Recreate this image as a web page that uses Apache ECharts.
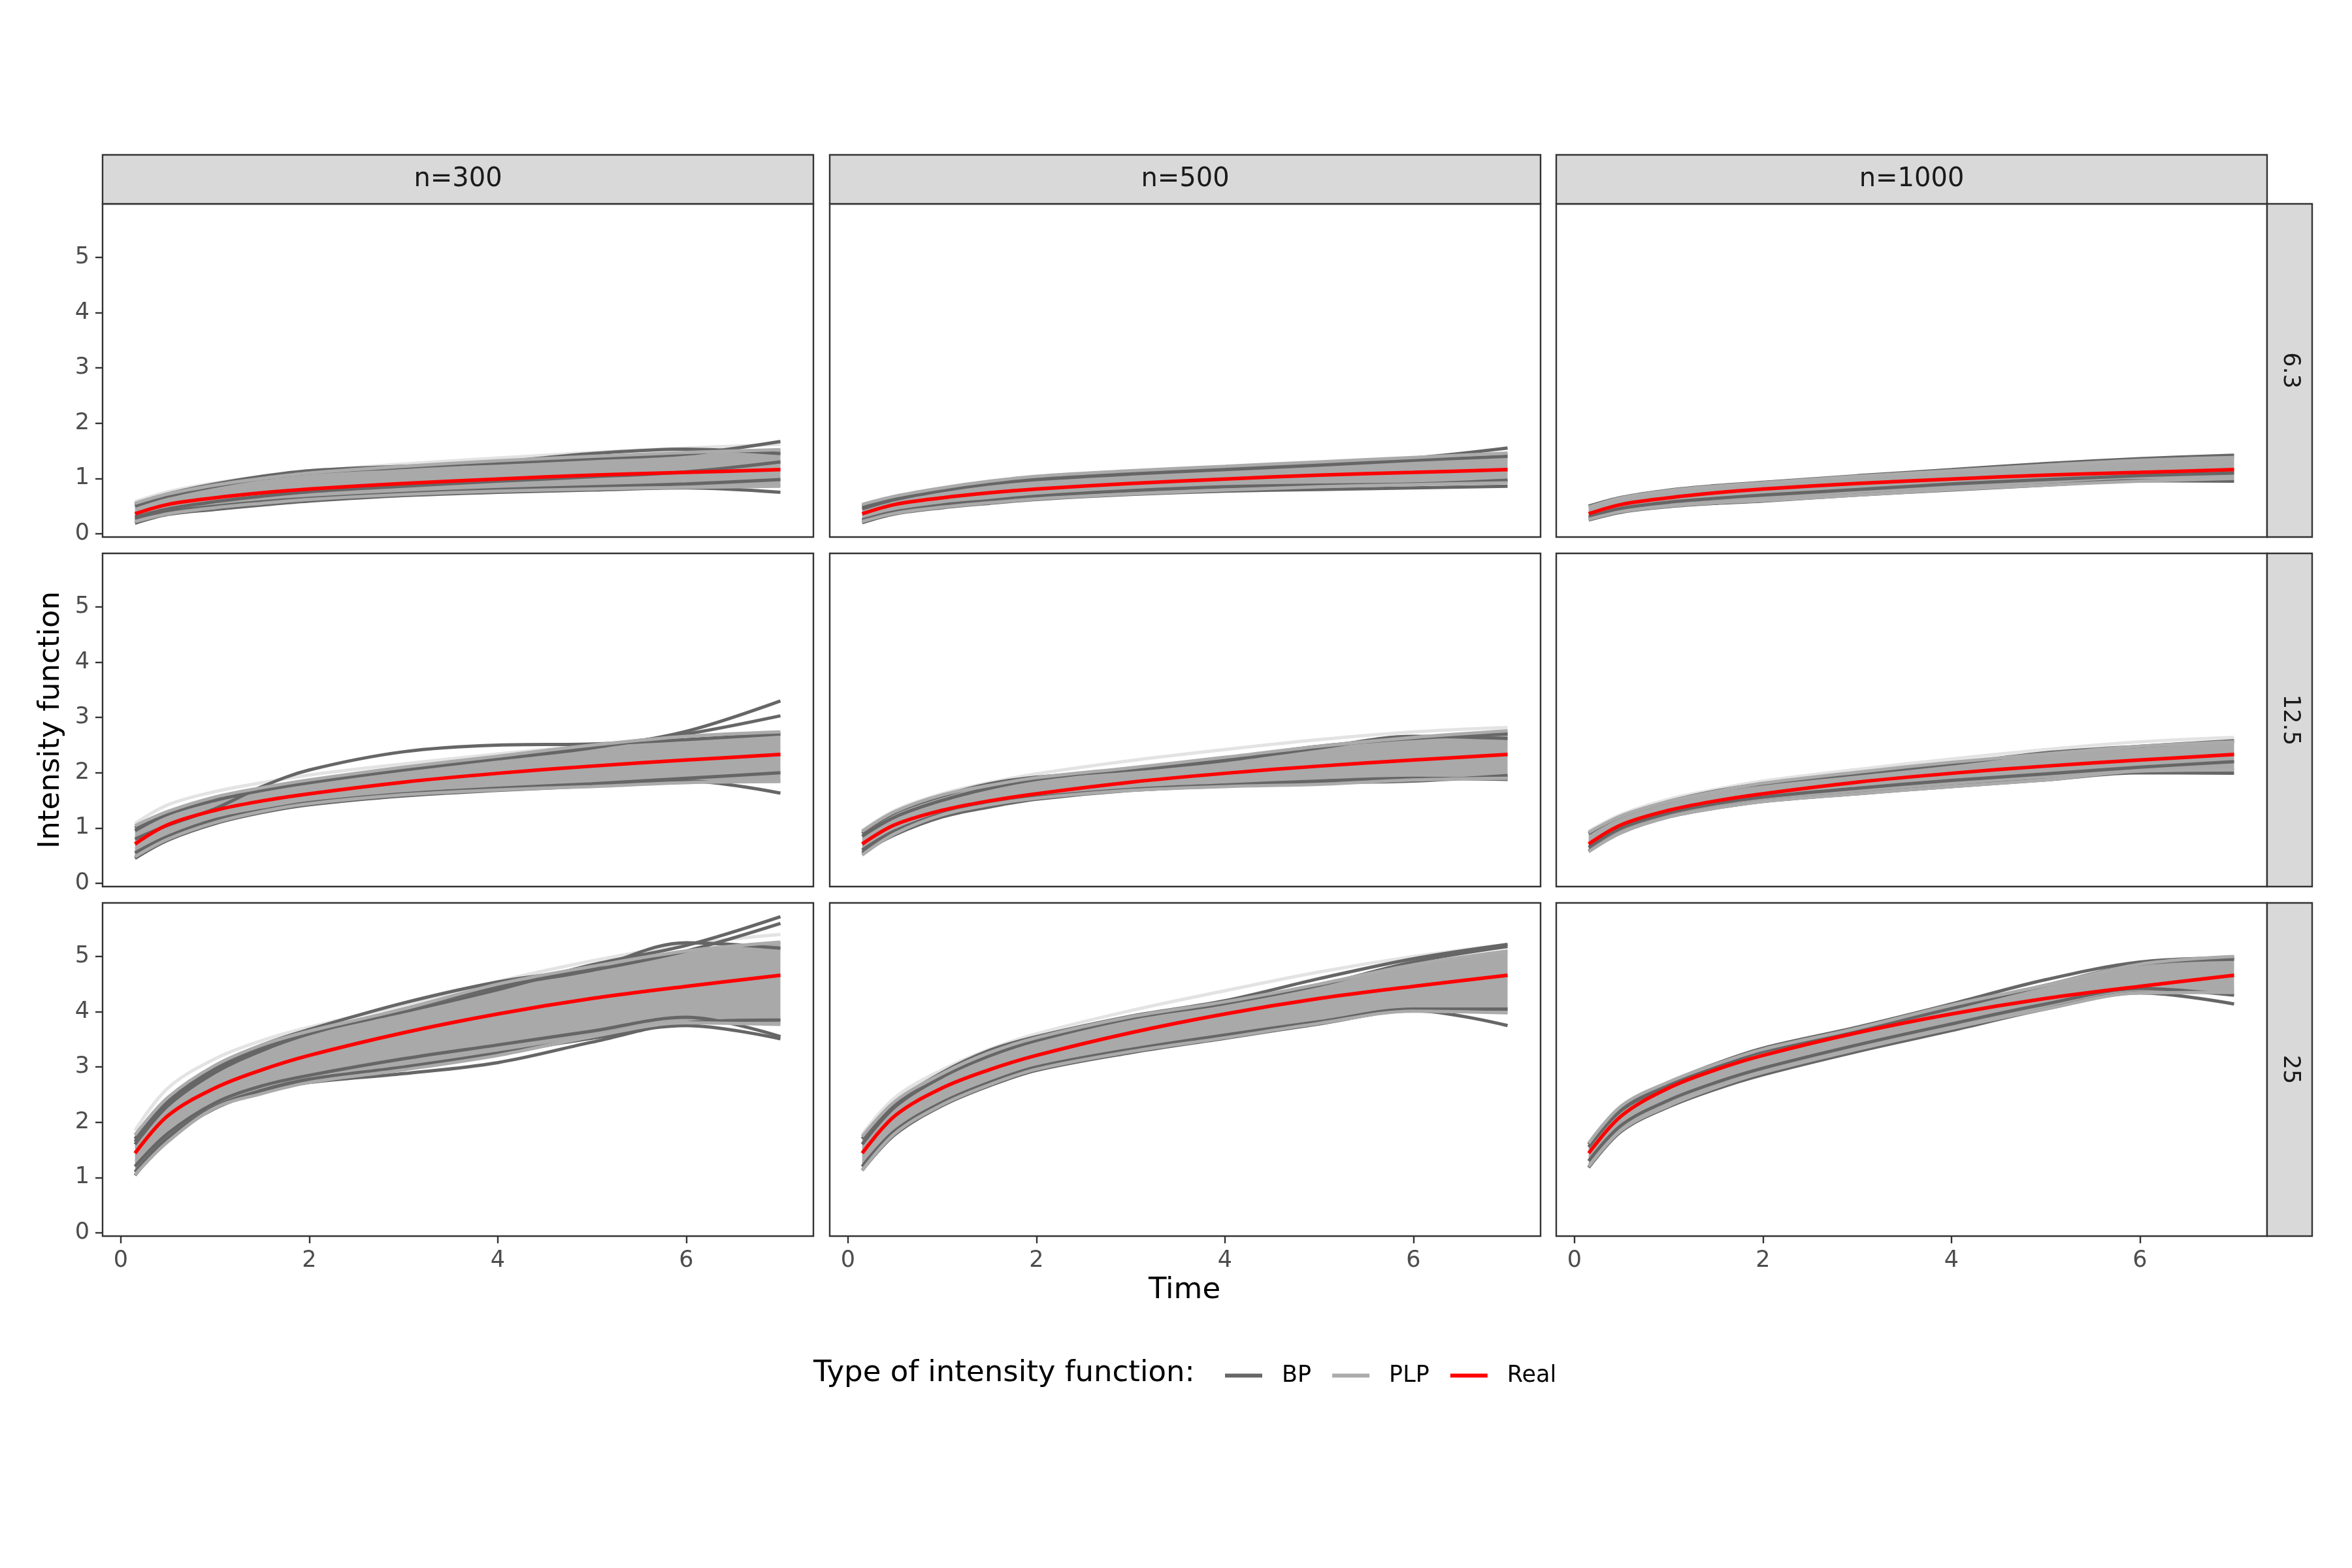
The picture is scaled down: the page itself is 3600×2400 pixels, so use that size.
<!DOCTYPE html>
<html>
<head>
<meta charset="utf-8">
<title>Intensity function</title>
<script src="https://cdn.jsdelivr.net/npm/echarts@6.0.0/dist/echarts.min.js"></script>
<style>
  html, body { margin: 0; padding: 0; background: #ffffff; }
  #chart { width: 3600px; height: 2400px; }
</style>
</head>
<body>
<div id="chart"></div>
<script>
// facets: columns = sample size, rows = value of the rate
var sampleSizes = ['300', '500', '1000'];
var rates = ['6.3', '12.5', '25'];
var times = [0.15, 0.5, 1, 1.5, 2, 3, 4, 5, 6, 7];
var xTicks = [0, 2, 4, 6];
var yTicks = [0, 1, 2, 3, 4, 5];

// real intensity, one curve per row
var realIntensity = {
    '6.3':  [0.36, 0.53, 0.65, 0.74, 0.81, 0.91, 0.99, 1.06, 1.11, 1.16],
    '12.5': [0.71, 1.06, 1.32, 1.49, 1.62, 1.83, 1.99, 2.12, 2.23, 2.33],
    '25':   [1.44, 2.12, 2.62, 2.95, 3.21, 3.62, 3.96, 4.24, 4.46, 4.66]
};

// upper / lower edge of the bundle of PLP estimates
var plpHigh = {
    '300|6.3':   [0.55, 0.72, 0.88, 1.00, 1.10, 1.22, 1.32, 1.40, 1.47, 1.52],
    '500|6.3':   [0.53, 0.68, 0.83, 0.95, 1.04, 1.14, 1.22, 1.30, 1.38, 1.46],
    '1000|6.3':  [0.48, 0.65, 0.78, 0.86, 0.92, 1.04, 1.14, 1.24, 1.33, 1.38],
    '300|12.5':  [1.04, 1.30, 1.56, 1.73, 1.87, 2.10, 2.30, 2.50, 2.66, 2.74],
    '500|12.5':  [0.94, 1.30, 1.60, 1.77, 1.91, 2.09, 2.28, 2.48, 2.64, 2.76],
    '1000|12.5': [0.92, 1.22, 1.48, 1.66, 1.81, 2.01, 2.19, 2.34, 2.48, 2.56],
    '300|25':    [1.77, 2.45, 3.03, 3.40, 3.65, 4.05, 4.50, 4.82, 5.10, 5.26],
    '500|25':    [1.74, 2.38, 2.88, 3.26, 3.53, 3.91, 4.18, 4.50, 4.85, 5.10],
    '1000|25':   [1.62, 2.30, 2.73, 3.05, 3.32, 3.70, 4.12, 4.48, 4.86, 5.00]
};
var plpLow = {
    '300|6.3':   [0.22, 0.36, 0.47, 0.55, 0.62, 0.71, 0.77, 0.81, 0.84, 0.86],
    '500|6.3':   [0.22, 0.37, 0.48, 0.56, 0.63, 0.72, 0.79, 0.85, 0.89, 0.92],
    '1000|6.3':  [0.26, 0.40, 0.50, 0.56, 0.60, 0.70, 0.80, 0.88, 0.95, 1.00],
    '300|12.5':  [0.48, 0.80, 1.10, 1.30, 1.44, 1.60, 1.69, 1.75, 1.82, 1.84],
    '500|12.5':  [0.51, 0.90, 1.24, 1.42, 1.54, 1.68, 1.75, 1.79, 1.87, 1.90],
    '1000|12.5': [0.57, 0.92, 1.20, 1.36, 1.48, 1.62, 1.75, 1.87, 2.03, 2.05],
    '300|25':    [1.05, 1.65, 2.26, 2.52, 2.72, 2.95, 3.21, 3.55, 3.80, 3.77],
    '500|25':    [1.13, 1.80, 2.32, 2.68, 2.96, 3.28, 3.53, 3.79, 4.01, 3.98],
    '1000|25':   [1.20, 1.86, 2.30, 2.63, 2.90, 3.32, 3.70, 4.05, 4.34, 4.35]
};

// faint PLP estimates lying just outside the bundle
var plpStray = {
    '300|6.3':   [0.58, 0.76, 0.92, 1.04, 1.13, 1.26, 1.37, 1.47, 1.55, 1.62],
    '300|12.5':  [1.08, 1.42, 1.66, 1.82, 1.96, 2.16, 2.34, 2.50, 2.62, 2.70],
    '500|12.5':  [0.95, 1.32, 1.62, 1.82, 1.98, 2.22, 2.42, 2.60, 2.74, 2.82],
    '1000|12.5': [0.94, 1.25, 1.52, 1.70, 1.85, 2.06, 2.25, 2.42, 2.56, 2.64],
    '300|25':    [1.85, 2.62, 3.15, 3.48, 3.72, 4.12, 4.55, 4.92, 5.22, 5.40],
    '500|25':    [1.78, 2.45, 2.95, 3.32, 3.60, 4.02, 4.38, 4.72, 5.00, 5.22]
};

// BP estimates that stand out of the bundle
var bpCurves = {
    '300|6.3': [
        [0.50, 0.68, 0.86, 1.00, 1.10, 1.20, 1.30, 1.45, 1.53, 1.45],
        [0.54, 0.72, 0.90, 1.04, 1.14, 1.22, 1.28, 1.36, 1.44, 1.67],
        [0.19, 0.35, 0.44, 0.52, 0.59, 0.69, 0.75, 0.79, 0.83, 0.75],
        [0.26, 0.40, 0.50, 0.58, 0.64, 0.73, 0.80, 0.85, 0.90, 0.98],
        [0.30, 0.45, 0.58, 0.68, 0.76, 0.86, 0.95, 1.03, 1.12, 1.30]
    ],
    '500|6.3': [
        [0.50, 0.66, 0.82, 0.94, 1.03, 1.13, 1.21, 1.29, 1.37, 1.55],
        [0.20, 0.36, 0.47, 0.55, 0.62, 0.71, 0.77, 0.80, 0.83, 0.86],
        [0.25, 0.40, 0.52, 0.60, 0.68, 0.78, 0.85, 0.88, 0.90, 0.97],
        [0.45, 0.62, 0.78, 0.90, 0.98, 1.08, 1.16, 1.24, 1.33, 1.40]
    ],
    '1000|6.3': [
        [0.50, 0.66, 0.79, 0.87, 0.93, 1.05, 1.16, 1.27, 1.36, 1.42],
        [0.25, 0.39, 0.49, 0.55, 0.59, 0.70, 0.79, 0.88, 0.96, 0.95],
        [0.30, 0.46, 0.57, 0.64, 0.70, 0.80, 0.90, 0.98, 1.05, 1.10]
    ],
    '300|12.5': [
        [0.80, 1.05, 1.35, 1.75, 2.05, 2.38, 2.50, 2.52, 2.60, 2.70],
        [0.95, 1.25, 1.50, 1.68, 1.82, 2.05, 2.25, 2.45, 2.75, 3.30],
        [1.00, 1.28, 1.54, 1.72, 1.86, 2.08, 2.28, 2.48, 2.70, 3.03],
        [0.45, 0.78, 1.08, 1.28, 1.42, 1.58, 1.68, 1.76, 1.85, 1.63],
        [0.55, 0.85, 1.15, 1.32, 1.46, 1.62, 1.72, 1.80, 1.90, 2.00]
    ],
    '500|12.5': [
        [0.90, 1.28, 1.58, 1.80, 1.92, 2.05, 2.22, 2.45, 2.66, 2.62],
        [0.55, 0.88, 1.20, 1.38, 1.52, 1.68, 1.76, 1.82, 1.85, 1.95],
        [0.60, 0.95, 1.26, 1.44, 1.56, 1.70, 1.78, 1.85, 1.90, 1.88],
        [0.85, 1.20, 1.50, 1.72, 1.88, 2.08, 2.26, 2.48, 2.62, 2.70]
    ],
    '1000|12.5': [
        [0.90, 1.22, 1.48, 1.67, 1.80, 1.98, 2.16, 2.36, 2.48, 2.58],
        [0.58, 0.92, 1.20, 1.36, 1.48, 1.62, 1.75, 1.87, 2.00, 1.99],
        [0.65, 1.00, 1.27, 1.44, 1.56, 1.72, 1.86, 1.98, 2.10, 2.20]
    ],
    '300|25': [
        [1.70, 2.40, 3.00, 3.40, 3.68, 4.16, 4.54, 4.80, 5.25, 5.15],
        [1.65, 2.35, 2.95, 3.35, 3.62, 4.00, 4.40, 4.85, 5.20, 5.72],
        [1.60, 2.30, 2.90, 3.30, 3.60, 4.05, 4.45, 4.75, 5.10, 5.60],
        [1.04, 1.70, 2.25, 2.55, 2.72, 2.88, 3.08, 3.45, 3.80, 3.85],
        [1.10, 1.72, 2.28, 2.58, 2.78, 3.00, 3.25, 3.52, 3.75, 3.51],
        [1.20, 1.80, 2.35, 2.66, 2.85, 3.15, 3.40, 3.65, 3.90, 3.55]
    ],
    '500|25': [
        [1.70, 2.35, 2.90, 3.30, 3.55, 3.92, 4.20, 4.60, 4.96, 5.22],
        [1.60, 2.28, 2.82, 3.20, 3.48, 3.88, 4.15, 4.48, 4.90, 5.18],
        [1.13, 1.78, 2.30, 2.66, 2.94, 3.26, 3.52, 3.78, 4.02, 3.75],
        [1.20, 1.85, 2.36, 2.72, 3.00, 3.32, 3.58, 3.82, 4.05, 4.05]
    ],
    '1000|25': [
        [1.60, 2.28, 2.72, 3.06, 3.34, 3.72, 4.14, 4.58, 4.90, 4.98],
        [1.18, 1.84, 2.28, 2.60, 2.86, 3.28, 3.66, 4.05, 4.34, 4.14],
        [1.30, 1.95, 2.40, 2.72, 2.98, 3.40, 3.78, 4.14, 4.42, 4.30],
        [1.55, 2.22, 2.66, 3.00, 3.28, 3.66, 4.06, 4.48, 4.86, 4.95]
    ]
};

var FONT = 'DejaVu Sans';
var colLeft = [157, 1270, 2382];
var rowTop = [312, 847, 1382];
var panelW = 1088, panelH = 510;

function pairs(vals) {
    return times.map(function (t, i) { return [t, vals[i]]; });
}

// filled bundle between the low and high PLP edges, placed through the axes.
// end points are doubled so the smoothing keeps the two ends straight
function bandRenderer(low, high) {
    return function (params, api) {
        var last = times.length - 1;
        var pts = [api.coord([times[0], high[0]])];
        times.forEach(function (t, i) { pts.push(api.coord([t, high[i]])); });
        pts.push(api.coord([times[last], high[last]]));
        pts.push(api.coord([times[last], low[last]]));
        for (var i = last; i >= 0; i--) {
            pts.push(api.coord([times[i], low[i]]));
        }
        pts.push(api.coord([times[0], low[0]]));
        return {
            type: 'polygon',
            shape: { points: pts, smooth: 0.35 },
            style: { fill: '#A3A3A3', opacity: 0.93 }
        };
    };
}

var grids = [], xAxes = [], yAxes = [], series = [], graphics = [];

rates.forEach(function (rate, r) {
    sampleSizes.forEach(function (n, c) {
        var gi = r * 3 + c;
        var key = n + '|' + rate;
        grids.push({
            left: colLeft[c], top: rowTop[r], width: panelW, height: panelH,
            show: true, backgroundColor: '#ffffff',
            borderColor: '#333333', borderWidth: 2.4
        });
        xAxes.push({
            gridIndex: gi, type: 'value', min: -0.194, max: 7.35,
            splitLine: { show: false },
            axisLine: { show: false, onZero: false },
            axisTick: { show: r === 2, customValues: xTicks, length: 11,
                lineStyle: { color: '#333333', width: 2.4 } },
            axisLabel: { show: r === 2, customValues: xTicks, fontSize: 35,
                color: '#4D4D4D', fontFamily: FONT, margin: 20 }
        });
        yAxes.push({
            gridIndex: gi, type: 'value', min: -0.06, max: 5.97,
            splitLine: { show: false },
            axisLine: { show: false, onZero: false },
            axisTick: { show: c === 0, customValues: yTicks, length: 11,
                lineStyle: { color: '#333333', width: 2.4 } },
            axisLabel: { show: c === 0, customValues: yTicks, fontSize: 35,
                color: '#4D4D4D', fontFamily: FONT, margin: 20 }
        });

        if (plpStray[key]) {
            series.push({
                name: 'PLP', type: 'line', xAxisIndex: gi, yAxisIndex: gi,
                data: pairs(plpStray[key]), smooth: 0.35, symbol: 'none', silent: true,
                lineStyle: { color: '#E3E3E3', width: 5 }
            });
        }

        // BP lines first, the PLP bundle goes over them
        bpCurves[key].forEach(function (vals) {
            series.push({
                name: 'BP', type: 'line', xAxisIndex: gi, yAxisIndex: gi,
                data: pairs(vals), smooth: 0.35, symbol: 'none', silent: true,
                lineStyle: { color: '#666666', width: 5 }
            });
        });

        var low = plpLow[key], high = plpHigh[key];
        series.push({
            name: 'plpBand', type: 'custom', xAxisIndex: gi, yAxisIndex: gi,
            data: [[times[0], low[0]]], silent: true,
            renderItem: bandRenderer(low, high)
        });
        [low, high].forEach(function (vals) {
            series.push({
                name: 'PLP', type: 'line', xAxisIndex: gi, yAxisIndex: gi,
                data: pairs(vals), smooth: 0.35, symbol: 'none', silent: true,
                lineStyle: { color: '#ABABAB', width: 5 }
            });
        });

        series.push({
            name: 'Real', type: 'line', xAxisIndex: gi, yAxisIndex: gi,
            data: pairs(realIntensity[rate]), smooth: 0.35, symbol: 'none',
            silent: true, z: 5,
            lineStyle: { color: '#FF0000', width: 5.5 }
        });
    });
});

// column strips
sampleSizes.forEach(function (n, c) {
    graphics.push({
        type: 'rect', shape: { x: colLeft[c], y: 237, width: panelW, height: 75 },
        style: { fill: '#D9D9D9', stroke: '#333333', lineWidth: 2.4 }
    });
    graphics.push({
        type: 'text', x: colLeft[c] + panelW / 2, y: 275,
        style: { text: 'n=' + n, fontSize: 40, fontFamily: FONT, fill: '#1A1A1A',
            textAlign: 'center', textVerticalAlign: 'middle', align: 'center', verticalAlign: 'middle' }
    });
});

// row strips
rates.forEach(function (rate, r) {
    graphics.push({
        type: 'rect', shape: { x: 3470, y: rowTop[r], width: 69, height: panelH },
        style: { fill: '#D9D9D9', stroke: '#333333', lineWidth: 2.4 }
    });
    graphics.push({
        type: 'text', x: 3505, y: rowTop[r] + panelH / 2, rotation: -Math.PI / 2,
        style: { text: rate, fontSize: 35, fontFamily: FONT, fill: '#1A1A1A',
            textAlign: 'center', textVerticalAlign: 'middle', align: 'center', verticalAlign: 'middle' }
    });
});

// axis titles and legend title
graphics.push({
    type: 'text', x: 1813, y: 1975,
    style: { text: 'Time', fontSize: 45, fontFamily: FONT, fill: '#000000',
        textAlign: 'center', textVerticalAlign: 'middle', align: 'center', verticalAlign: 'middle' }
});
graphics.push({
    type: 'text', x: 78, y: 1102, rotation: Math.PI / 2,
    style: { text: 'Intensity function', fontSize: 45, fontFamily: FONT, fill: '#000000',
        textAlign: 'center', textVerticalAlign: 'middle', align: 'center', verticalAlign: 'middle' }
});
graphics.push({
    type: 'text', x: 1245, y: 2102,
    style: { text: 'Type of intensity function:', fontSize: 45, fontFamily: FONT, fill: '#000000',
        textAlign: 'left', textVerticalAlign: 'middle', align: 'left', verticalAlign: 'middle' }
});

var chart = echarts.init(document.getElementById('chart'), null, { renderer: 'canvas' });
chart.setOption({
    animation: false,
    backgroundColor: '#ffffff',
    grid: grids,
    xAxis: xAxes,
    yAxis: yAxes,
    legend: {
        left: 1870, top: 2083,
        icon: 'rect', itemWidth: 57, itemHeight: 6, itemGap: 32,
        selectedMode: false,
        textStyle: { fontSize: 35, fontFamily: FONT, color: '#000000', padding: [0, 0, 0, 25] },
        data: [
            { name: 'BP', itemStyle: { color: '#666666' } },
            { name: 'PLP', itemStyle: { color: '#ABABAB' } },
            { name: 'Real', itemStyle: { color: '#FF0000' } }
        ]
    },
    graphic: graphics,
    series: series
});
</script>
</body>
</html>
